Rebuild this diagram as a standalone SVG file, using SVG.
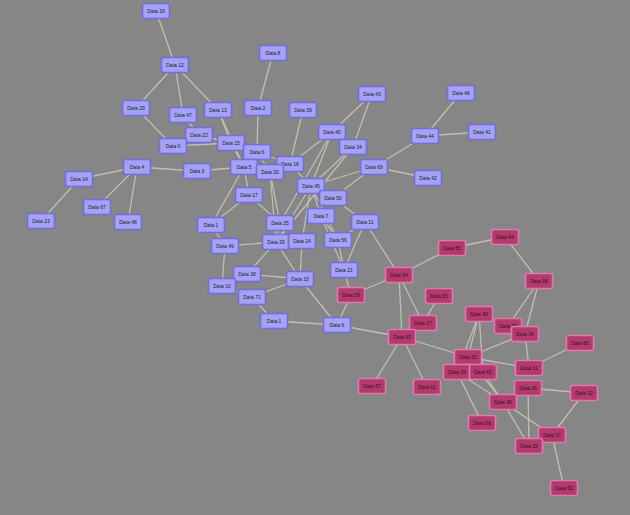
<svg xmlns="http://www.w3.org/2000/svg" width="630" height="515" viewBox="0 0 630 515">
<style>
.bg{fill:#868686}
.e line{stroke:#c9c6b2;stroke-width:1.3;opacity:0.9}
.b use{fill:#a4a1f6;stroke:#716ed6;stroke-width:1.6}
.p use{fill:#b33a6c;stroke:#e07aae;stroke-width:1.6}
text{font-family:"Liberation Sans",Arial,sans-serif;font-size:5px;text-anchor:middle;fill:#222}
.p text{fill:#3a1020}
</style>
<defs>
<rect id="box" x="-13.5" y="-7.5" width="27" height="15" rx="2"/>
</defs>
<rect class="bg" width="630" height="515"/>
<g id="connectors" class="e">
<line x1="156" y1="11" x2="175" y2="65"/>
<line x1="175" y1="65" x2="136" y2="108"/>
<line x1="175" y1="65" x2="183" y2="115"/>
<line x1="175" y1="65" x2="218" y2="110"/>
<line x1="136" y1="108" x2="173" y2="146"/>
<line x1="173" y1="146" x2="231" y2="143"/>
<line x1="183" y1="115" x2="199" y2="135"/>
<line x1="199" y1="135" x2="231" y2="143"/>
<line x1="218" y1="110" x2="231" y2="143"/>
<line x1="218" y1="110" x2="244" y2="167"/>
<line x1="231" y1="143" x2="244" y2="167"/>
<line x1="258" y1="108" x2="273" y2="53"/>
<line x1="258" y1="108" x2="257" y2="152"/>
<line x1="303" y1="110" x2="290" y2="164"/>
<line x1="137" y1="167" x2="79" y2="179"/>
<line x1="137" y1="167" x2="97" y2="207"/>
<line x1="137" y1="167" x2="128" y2="222"/>
<line x1="137" y1="167" x2="197" y2="171"/>
<line x1="79" y1="179" x2="41" y2="221"/>
<line x1="197" y1="171" x2="244" y2="167"/>
<line x1="372" y1="94" x2="332" y2="132"/>
<line x1="372" y1="94" x2="353" y2="147"/>
<line x1="461" y1="93" x2="425" y2="136"/>
<line x1="425" y1="136" x2="482" y2="132"/>
<line x1="425" y1="136" x2="374" y2="167"/>
<line x1="374" y1="167" x2="428" y2="178"/>
<line x1="374" y1="167" x2="311" y2="186"/>
<line x1="374" y1="167" x2="333" y2="198"/>
<line x1="332" y1="132" x2="290" y2="164"/>
<line x1="332" y1="132" x2="311" y2="186"/>
<line x1="332" y1="132" x2="280" y2="223"/>
<line x1="353" y1="147" x2="311" y2="186"/>
<line x1="353" y1="147" x2="276" y2="242"/>
<line x1="244" y1="167" x2="249" y2="195"/>
<line x1="244" y1="167" x2="211" y2="225"/>
<line x1="249" y1="195" x2="211" y2="225"/>
<line x1="249" y1="195" x2="280" y2="223"/>
<line x1="270" y1="172" x2="276" y2="242"/>
<line x1="270" y1="172" x2="280" y2="223"/>
<line x1="290" y1="164" x2="311" y2="186"/>
<line x1="257" y1="152" x2="270" y2="172"/>
<line x1="257" y1="152" x2="290" y2="164"/>
<line x1="311" y1="186" x2="321" y2="216"/>
<line x1="311" y1="186" x2="333" y2="198"/>
<line x1="311" y1="186" x2="276" y2="242"/>
<line x1="311" y1="186" x2="302" y2="241"/>
<line x1="311" y1="186" x2="338" y2="240"/>
<line x1="333" y1="198" x2="365" y2="222"/>
<line x1="365" y1="222" x2="344" y2="270"/>
<line x1="365" y1="222" x2="338" y2="240"/>
<line x1="365" y1="222" x2="399" y2="275"/>
<line x1="321" y1="216" x2="344" y2="270"/>
<line x1="321" y1="216" x2="338" y2="240"/>
<line x1="211" y1="225" x2="225" y2="246"/>
<line x1="225" y1="246" x2="276" y2="242"/>
<line x1="225" y1="246" x2="222" y2="286"/>
<line x1="280" y1="223" x2="276" y2="242"/>
<line x1="276" y1="242" x2="300" y2="279"/>
<line x1="276" y1="242" x2="247" y2="274"/>
<line x1="302" y1="241" x2="300" y2="279"/>
<line x1="247" y1="274" x2="300" y2="279"/>
<line x1="222" y1="286" x2="252" y2="297"/>
<line x1="252" y1="297" x2="274" y2="321"/>
<line x1="252" y1="297" x2="300" y2="279"/>
<line x1="274" y1="321" x2="337" y2="325"/>
<line x1="300" y1="279" x2="337" y2="325"/>
<line x1="344" y1="270" x2="351" y2="295"/>
<line x1="338" y1="240" x2="344" y2="270"/>
<line x1="351" y1="295" x2="337" y2="325"/>
<line x1="337" y1="325" x2="402" y2="337"/>
<line x1="399" y1="275" x2="351" y2="295"/>
<line x1="399" y1="275" x2="452" y2="248"/>
<line x1="399" y1="275" x2="402" y2="337"/>
<line x1="399" y1="275" x2="423" y2="323"/>
<line x1="452" y1="248" x2="505" y2="237"/>
<line x1="505" y1="237" x2="539" y2="281"/>
<line x1="439" y1="296" x2="423" y2="323"/>
<line x1="402" y1="337" x2="372" y2="386"/>
<line x1="402" y1="337" x2="427" y2="387"/>
<line x1="402" y1="337" x2="468" y2="357"/>
<line x1="539" y1="281" x2="508" y2="326"/>
<line x1="539" y1="281" x2="525" y2="334"/>
<line x1="479" y1="314" x2="468" y2="357"/>
<line x1="479" y1="314" x2="457" y2="372"/>
<line x1="479" y1="314" x2="483" y2="372"/>
<line x1="468" y1="357" x2="525" y2="334"/>
<line x1="468" y1="357" x2="529" y2="368"/>
<line x1="468" y1="357" x2="503" y2="402"/>
<line x1="580" y1="343" x2="529" y2="368"/>
<line x1="457" y1="372" x2="482" y2="423"/>
<line x1="457" y1="372" x2="503" y2="402"/>
<line x1="483" y1="372" x2="503" y2="402"/>
<line x1="525" y1="334" x2="529" y2="368"/>
<line x1="528" y1="388" x2="584" y2="393"/>
<line x1="528" y1="388" x2="529" y2="446"/>
<line x1="528" y1="388" x2="503" y2="402"/>
<line x1="584" y1="393" x2="552" y2="435"/>
<line x1="503" y1="402" x2="552" y2="435"/>
<line x1="503" y1="402" x2="529" y2="446"/>
<line x1="552" y1="435" x2="564" y2="488"/>
</g>
<g id="n16" class="b" transform="translate(156,11)"><use href="#box"/><text y="2">Data 16</text></g>
<g id="n12" class="b" transform="translate(175,65)"><use href="#box"/><text y="2">Data 12</text></g>
<g id="n8" class="b" transform="translate(273,53)"><use href="#box"/><text y="2">Data 8</text></g>
<g id="n29" class="b" transform="translate(136,108)"><use href="#box"/><text y="2">Data 29</text></g>
<g id="n47" class="b" transform="translate(183,115)"><use href="#box"/><text y="2">Data 47</text></g>
<g id="n13" class="b" transform="translate(218,110)"><use href="#box"/><text y="2">Data 13</text></g>
<g id="n2" class="b" transform="translate(258,108)"><use href="#box"/><text y="2">Data 2</text></g>
<g id="n39" class="b" transform="translate(303,110)"><use href="#box"/><text y="2">Data 39</text></g>
<g id="n43" class="b" transform="translate(372,94)"><use href="#box"/><text y="2">Data 43</text></g>
<g id="n46" class="b" transform="translate(461,93)"><use href="#box"/><text y="2">Data 46</text></g>
<g id="n22" class="b" transform="translate(199,135)"><use href="#box"/><text y="2">Data 22</text></g>
<g id="n0" class="b" transform="translate(173,146)"><use href="#box"/><text y="2">Data 0</text></g>
<g id="n15" class="b" transform="translate(231,143)"><use href="#box"/><text y="2">Data 15</text></g>
<g id="n6" class="b" transform="translate(257,152)"><use href="#box"/><text y="2">Data 6</text></g>
<g id="n40" class="b" transform="translate(332,132)"><use href="#box"/><text y="2">Data 40</text></g>
<g id="n34" class="b" transform="translate(353,147)"><use href="#box"/><text y="2">Data 34</text></g>
<g id="n44" class="b" transform="translate(425,136)"><use href="#box"/><text y="2">Data 44</text></g>
<g id="n41" class="b" transform="translate(482,132)"><use href="#box"/><text y="2">Data 41</text></g>
<g id="n4" class="b" transform="translate(137,167)"><use href="#box"/><text y="2">Data 4</text></g>
<g id="n3" class="b" transform="translate(197,171)"><use href="#box"/><text y="2">Data 3</text></g>
<g id="n5" class="b" transform="translate(244,167)"><use href="#box"/><text y="2">Data 5</text></g>
<g id="n18" class="b" transform="translate(290,164)"><use href="#box"/><text y="2">Data 18</text></g>
<g id="n20" class="b" transform="translate(270,172)"><use href="#box"/><text y="2">Data 20</text></g>
<g id="n69" class="b" transform="translate(374,167)"><use href="#box"/><text y="2">Data 69</text></g>
<g id="n42" class="b" transform="translate(428,178)"><use href="#box"/><text y="2">Data 42</text></g>
<g id="n14" class="b" transform="translate(79,179)"><use href="#box"/><text y="2">Data 14</text></g>
<g id="n45" class="b" transform="translate(311,186)"><use href="#box"/><text y="2">Data 45</text></g>
<g id="n17" class="b" transform="translate(249,195)"><use href="#box"/><text y="2">Data 17</text></g>
<g id="n50" class="b" transform="translate(333,198)"><use href="#box"/><text y="2">Data 50</text></g>
<g id="n67" class="b" transform="translate(97,207)"><use href="#box"/><text y="2">Data 67</text></g>
<g id="n48" class="b" transform="translate(128,222)"><use href="#box"/><text y="2">Data 48</text></g>
<g id="n23" class="b" transform="translate(41,221)"><use href="#box"/><text y="2">Data 23</text></g>
<g id="n1" class="b" transform="translate(211,225)"><use href="#box"/><text y="2">Data 1</text></g>
<g id="n7" class="b" transform="translate(321,216)"><use href="#box"/><text y="2">Data 7</text></g>
<g id="n11" class="b" transform="translate(365,222)"><use href="#box"/><text y="2">Data 11</text></g>
<g id="n25" class="b" transform="translate(280,223)"><use href="#box"/><text y="2">Data 25</text></g>
<g id="n49" class="b" transform="translate(225,246)"><use href="#box"/><text y="2">Data 49</text></g>
<g id="n26" class="b" transform="translate(276,242)"><use href="#box"/><text y="2">Data 26</text></g>
<g id="n24" class="b" transform="translate(302,241)"><use href="#box"/><text y="2">Data 24</text></g>
<g id="n56" class="b" transform="translate(338,240)"><use href="#box"/><text y="2">Data 56</text></g>
<g id="n21" class="b" transform="translate(344,270)"><use href="#box"/><text y="2">Data 21</text></g>
<g id="n38" class="b" transform="translate(247,274)"><use href="#box"/><text y="2">Data 38</text></g>
<g id="n10" class="b" transform="translate(222,286)"><use href="#box"/><text y="2">Data 10</text></g>
<g id="n71" class="b" transform="translate(252,297)"><use href="#box"/><text y="2">Data 71</text></g>
<g id="n33" class="b" transform="translate(300,279)"><use href="#box"/><text y="2">Data 33</text></g>
<g id="n9" class="b" transform="translate(274,321)"><use href="#box"/><text y="2">Data 1</text></g>
<g id="n60b" class="b" transform="translate(337,325)"><use href="#box"/><text y="2">Data 6</text></g>
<g id="p54" class="p" transform="translate(399,275)"><use href="#box"/><text y="2">Data 54</text></g>
<g id="p59" class="p" transform="translate(351,295)"><use href="#box"/><text y="2">Data 59</text></g>
<g id="p55" class="p" transform="translate(452,248)"><use href="#box"/><text y="2">Data 55</text></g>
<g id="p64" class="p" transform="translate(505,237)"><use href="#box"/><text y="2">Data 64</text></g>
<g id="p58" class="p" transform="translate(539,281)"><use href="#box"/><text y="2">Data 58</text></g>
<g id="p53" class="p" transform="translate(439,296)"><use href="#box"/><text y="2">Data 53</text></g>
<g id="p27" class="p" transform="translate(423,323)"><use href="#box"/><text y="2">Data 27</text></g>
<g id="p60" class="p" transform="translate(402,337)"><use href="#box"/><text y="2">Data 60</text></g>
<g id="p30" class="p" transform="translate(479,314)"><use href="#box"/><text y="2">Data 30</text></g>
<g id="p48" class="p" transform="translate(508,326)"><use href="#box"/><text y="2">Data 48</text></g>
<g id="p34" class="p" transform="translate(525,334)"><use href="#box"/><text y="2">Data 34</text></g>
<g id="p66" class="p" transform="translate(580,343)"><use href="#box"/><text y="2">Data 66</text></g>
<g id="p57" class="p" transform="translate(372,386)"><use href="#box"/><text y="2">Data 57</text></g>
<g id="p61" class="p" transform="translate(427,387)"><use href="#box"/><text y="2">Data 61</text></g>
<g id="p35" class="p" transform="translate(468,357)"><use href="#box"/><text y="2">Data 35</text></g>
<g id="p29" class="p" transform="translate(457,372)"><use href="#box"/><text y="2">Data 29</text></g>
<g id="p62" class="p" transform="translate(483,372)"><use href="#box"/><text y="2">Data 62</text></g>
<g id="p31" class="p" transform="translate(529,368)"><use href="#box"/><text y="2">Data 31</text></g>
<g id="p26" class="p" transform="translate(528,388)"><use href="#box"/><text y="2">Data 26</text></g>
<g id="p32" class="p" transform="translate(584,393)"><use href="#box"/><text y="2">Data 32</text></g>
<g id="p36" class="p" transform="translate(503,402)"><use href="#box"/><text y="2">Data 36</text></g>
<g id="p69" class="p" transform="translate(482,423)"><use href="#box"/><text y="2">Data 69</text></g>
<g id="p37" class="p" transform="translate(552,435)"><use href="#box"/><text y="2">Data 37</text></g>
<g id="p25" class="p" transform="translate(529,446)"><use href="#box"/><text y="2">Data 25</text></g>
<g id="p52" class="p" transform="translate(564,488)"><use href="#box"/><text y="2">Data 52</text></g>
</svg>
